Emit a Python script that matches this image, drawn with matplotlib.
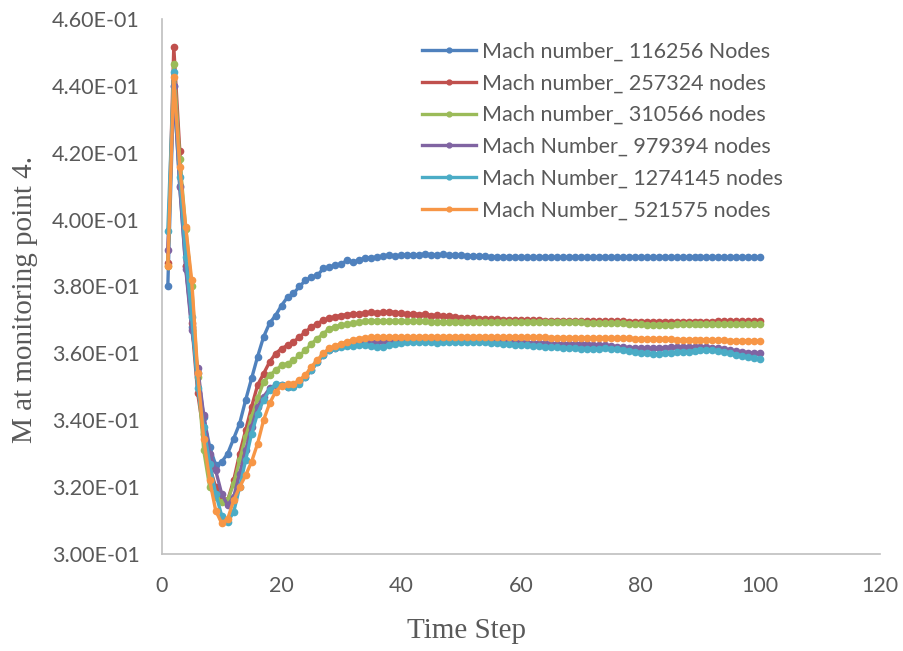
import matplotlib
matplotlib.use("Agg")
import matplotlib.pyplot as plt
import numpy as np

steps = list(range(1, 101))

blue = [0.380, 0.440, 0.410, 0.386, 0.368, 0.354, 0.341, 0.332, 0.3266, 0.3275,
        0.330, 0.3345, 0.339, 0.346, 0.3525, 0.359, 0.3649, 0.369, 0.3713, 0.3743,
        0.3768, 0.3779, 0.380, 0.3818, 0.3828, 0.3833, 0.3854, 0.3858, 0.3863, 0.3868,
        0.3878, 0.3873, 0.3878, 0.3886, 0.3885, 0.3888, 0.3890, 0.3895, 0.3890, 0.3893,
        0.3895, 0.3893, 0.3895, 0.3897, 0.3895, 0.3894, 0.3896, 0.3894, 0.3893, 0.3893,
        0.3892, 0.3891, 0.3891, 0.3890, 0.3889, 0.3889, 0.3888, 0.3888, 0.3887, 0.3887,
        0.3887, 0.3887, 0.3887, 0.3887, 0.3887, 0.3887, 0.3887, 0.3887, 0.3887, 0.3887,
        0.3887, 0.3887, 0.3887, 0.3887, 0.3887, 0.3887, 0.3887, 0.3887, 0.3887, 0.3887,
        0.3887, 0.3887, 0.3887, 0.3887, 0.3887, 0.3887, 0.3887, 0.3887, 0.3887, 0.3887,
        0.3887, 0.3887, 0.3887, 0.3887, 0.3887, 0.3887, 0.3887, 0.3887, 0.3887, 0.3887]

red = [0.387, 0.4516, 0.4206, 0.386, 0.369, 0.348, 0.336, 0.326, 0.320, 0.3165,
       0.316, 0.322, 0.330, 0.337, 0.344, 0.3505, 0.3539, 0.3574, 0.3599, 0.3614,
       0.3624, 0.3634, 0.3649, 0.3664, 0.3679, 0.3689, 0.3699, 0.3705, 0.3710, 0.3713,
       0.3716, 0.3718, 0.3719, 0.3720, 0.3723, 0.3722, 0.3723, 0.3725, 0.3722, 0.3720,
       0.3718, 0.3719, 0.3716, 0.3717, 0.3713, 0.3714, 0.3711, 0.3712, 0.3709, 0.3707,
       0.3706, 0.3705, 0.3704, 0.3703, 0.3703, 0.3702, 0.3701, 0.3701, 0.3700, 0.3700,
       0.3699, 0.3699, 0.3699, 0.3698, 0.3698, 0.3698, 0.3698, 0.3697, 0.3697, 0.3697,
       0.3697, 0.3697, 0.3696, 0.3696, 0.3696, 0.3696, 0.3696, 0.3695, 0.3695, 0.3695,
       0.3695, 0.3695, 0.3695, 0.3695, 0.3695, 0.3695, 0.3695, 0.3695, 0.3695, 0.3695,
       0.3695, 0.3695, 0.3696, 0.3696, 0.3696, 0.3696, 0.3696, 0.3696, 0.3696, 0.3696]

green = [0.386, 0.4465, 0.418, 0.3973, 0.380, 0.353, 0.331, 0.320, 0.317, 0.3155,
         0.316, 0.321, 0.328, 0.335, 0.341, 0.3465, 0.3514, 0.3534, 0.3549, 0.3564,
         0.3569, 0.3579, 0.3594, 0.3609, 0.3629, 0.3644, 0.3659, 0.3674, 0.3680, 0.3684,
         0.3687, 0.3690, 0.3693, 0.3696, 0.3697, 0.3697, 0.3697, 0.3697, 0.3696, 0.3696,
         0.3696, 0.3696, 0.3696, 0.3696, 0.3695, 0.3695, 0.3695, 0.3695, 0.3695, 0.3695,
         0.3695, 0.3695, 0.3694, 0.3694, 0.3694, 0.3694, 0.3694, 0.3694, 0.3694, 0.3694,
         0.3694, 0.3694, 0.3694, 0.3694, 0.3694, 0.3694, 0.3693, 0.3693, 0.3693, 0.3693,
         0.3692, 0.3692, 0.3692, 0.3691, 0.3691, 0.3690, 0.3690, 0.3689, 0.3688, 0.3687,
         0.3686, 0.3686, 0.3686, 0.3686, 0.3686, 0.3687, 0.3687, 0.3687, 0.3687, 0.3687,
         0.3687, 0.3687, 0.3687, 0.3687, 0.3687, 0.3687, 0.3687, 0.3687, 0.3687, 0.3687]

purple = [0.391, 0.440, 0.4097, 0.3853, 0.3669, 0.3555, 0.3415, 0.330, 0.325, 0.318,
          0.3146, 0.317, 0.324, 0.331, 0.338, 0.344, 0.347, 0.3495, 0.3505, 0.3504,
          0.3500, 0.3502, 0.3515, 0.3530, 0.3550, 0.3574, 0.3594, 0.3609, 0.3617, 0.3622,
          0.3626, 0.3628, 0.3630, 0.3632, 0.3634, 0.3635, 0.3636, 0.3637, 0.3637, 0.3638,
          0.3638, 0.3639, 0.3639, 0.3639, 0.3639, 0.3639, 0.3639, 0.3639, 0.3639, 0.3639,
          0.3639, 0.3639, 0.3639, 0.3638, 0.3637, 0.3636, 0.3636, 0.3635, 0.3634, 0.3633,
          0.3632, 0.3631, 0.3630, 0.3630, 0.3629, 0.3629, 0.3628, 0.3628, 0.3628, 0.3628,
          0.3627, 0.3626, 0.3625, 0.3624, 0.3622, 0.3620, 0.3618, 0.3616, 0.3615, 0.3615,
          0.3615, 0.3615, 0.3616, 0.3617, 0.3618, 0.3618, 0.3619, 0.3619, 0.3619, 0.3619,
          0.3618, 0.3617, 0.3615, 0.3612, 0.3609, 0.3606, 0.3604, 0.3602, 0.3601, 0.3600]

cyan = [0.3967, 0.444, 0.4126, 0.3887, 0.3708, 0.3495, 0.338, 0.327, 0.318, 0.3115,
        0.3096, 0.3125, 0.320, 0.328, 0.336, 0.342, 0.346, 0.349, 0.3507, 0.3504,
        0.3499, 0.3499, 0.3509, 0.3529, 0.3549, 0.3574, 0.3594, 0.3609, 0.3617, 0.3620,
        0.3622, 0.3623, 0.3624, 0.3624, 0.3622, 0.3619, 0.3620, 0.3624, 0.3628, 0.3631,
        0.3633, 0.3634, 0.3633, 0.3634, 0.3633, 0.3632, 0.3633, 0.3634, 0.3634, 0.3634,
        0.3634, 0.3634, 0.3634, 0.3633, 0.3631, 0.3630, 0.3628, 0.3627, 0.3626, 0.3625,
        0.3624, 0.3622, 0.3621, 0.3620, 0.3619, 0.3618, 0.3617, 0.3616, 0.3615, 0.3614,
        0.3614, 0.3614, 0.3614, 0.3615, 0.3614, 0.3613, 0.3611, 0.3608, 0.3605, 0.3602,
        0.3600, 0.3599, 0.3599, 0.3600, 0.3601, 0.3603, 0.3604, 0.3605, 0.3607, 0.3609,
        0.3610, 0.3609, 0.3607, 0.3604, 0.3600, 0.3596, 0.3592, 0.3589, 0.3586, 0.3584]

orange = [0.386, 0.4425, 0.4156, 0.3977, 0.3818, 0.354, 0.3345, 0.322, 0.313, 0.3092,
          0.3105, 0.316, 0.320, 0.3235, 0.3276, 0.333, 0.340, 0.345, 0.3485, 0.3503,
          0.3507, 0.3509, 0.3520, 0.3535, 0.3560, 0.3580, 0.3600, 0.3615, 0.3622, 0.3629,
          0.3635, 0.3640, 0.3644, 0.3646, 0.3648, 0.3649, 0.3649, 0.3649, 0.3649, 0.3649,
          0.3649, 0.3649, 0.3650, 0.3650, 0.3650, 0.3650, 0.3650, 0.3650, 0.3650, 0.3650,
          0.3650, 0.3650, 0.3650, 0.3650, 0.3650, 0.3649, 0.3649, 0.3649, 0.3649, 0.3649,
          0.3648, 0.3648, 0.3648, 0.3648, 0.3647, 0.3647, 0.3647, 0.3647, 0.3646, 0.3646,
          0.3646, 0.3646, 0.3646, 0.3645, 0.3645, 0.3645, 0.3645, 0.3645, 0.3644, 0.3644,
          0.3643, 0.3643, 0.3643, 0.3642, 0.3642, 0.3641, 0.3641, 0.3641, 0.3640, 0.3640,
          0.3640, 0.3639, 0.3639, 0.3639, 0.3638, 0.3638, 0.3638, 0.3637, 0.3637, 0.3637]

labels = ["Mach number_ 116256 Nodes", "Mach number_ 257324 nodes",
          "Mach number_ 310566 nodes", "Mach Number_ 979394 nodes",
          "Mach Number_ 1274145 nodes", "Mach Number_ 521575 nodes"]
colors = ["#4F81BD", "#C0504D", "#9BBB59", "#8064A2", "#4BACC6", "#F79646"]
series = [blue, red, green, purple, cyan, orange]

xticks = [0, 20, 40, 60, 80, 100, 120]
yticks = [0.30, 0.32, 0.34, 0.36, 0.38, 0.40, 0.42, 0.44, 0.46]

fig = plt.figure(figsize=(9.04, 6.51), dpi=100)
ax = fig.add_axes([0.179, 0.149, 0.7945, 0.822])

for s, c, l in zip(series, colors, labels):
    ax.plot(steps, s, color=c, lw=2.4, marker='o', ms=4.5, label=l)

ax.set_xlim(0, 120)
ax.set_ylim(0.30, 0.46)
ax.set_xticks(xticks)
ax.set_yticks(yticks)
ax.set_yticklabels(["%.2fE-01" % (v * 10) for v in yticks])
for sp in ["top", "right"]:
    ax.spines[sp].set_visible(False)
for sp in ["left", "bottom"]:
    ax.spines[sp].set_color("#BFBFBF")
    ax.spines[sp].set_linewidth(1.2)
ax.tick_params(axis='both', labelcolor="#595959", labelsize=15.5, length=0)
for t in ax.get_xticklabels() + ax.get_yticklabels():
    t.set_family("Lato")
ax.tick_params(axis='x', pad=16)
ax.tick_params(axis='y', pad=16)

ax.set_xlabel("Time Step", family="Liberation Serif", fontsize=21, color="#595959")
ax.set_ylabel("M at monitoring point 4.", family="Liberation Serif", fontsize=21, color="#595959")
ax.xaxis.label.set_va("center")
ax.yaxis.label.set_va("center")
ax.xaxis.set_label_coords(0.4244, -0.144)
ax.yaxis.set_label_coords(-0.1908, 0.475)

leg = ax.legend(loc="upper left", bbox_to_anchor=(0.35, 0.974), frameon=False,
                prop={"family": "Lato", "size": 15.5}, handlelength=2.5,
                labelspacing=0.55, handletextpad=0.3, borderaxespad=0)
for t in leg.get_texts():
    t.set_color("#595959")
for h in leg.legend_handles:
    h.set_markersize(3.5)

fig.savefig("out.png", dpi=100)
